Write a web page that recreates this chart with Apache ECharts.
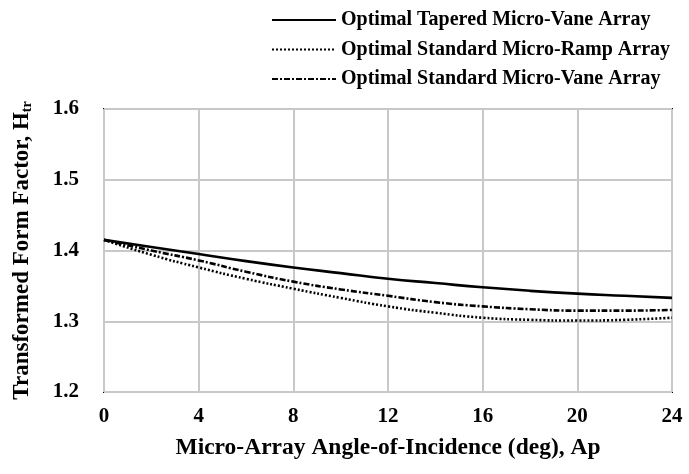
<!DOCTYPE html>
<html><head><meta charset="utf-8">
<script src="https://cdn.jsdelivr.net/npm/echarts@6/dist/echarts.min.js"></script>
<style>html,body{margin:0;padding:0;background:#fff}#c{width:689px;height:474px}</style>
</head><body><div id="c"></div>
<script>
const angles = [0, 2, 4, 6, 8, 10, 12, 14, 16, 18, 20, 22, 24];
const taperedVane = [1.415, 1.405, 1.395, 1.385, 1.376, 1.368, 1.360, 1.354, 1.348, 1.343, 1.339, 1.336, 1.333];
const standardRamp = [1.415, 1.394, 1.376, 1.360, 1.346, 1.333, 1.321, 1.312, 1.305, 1.302, 1.301, 1.302, 1.305];
const standardVane = [1.415, 1.400, 1.386, 1.370, 1.356, 1.345, 1.336, 1.327, 1.321, 1.317, 1.315, 1.315, 1.316];
const seriesNames = ['Optimal Tapered Micro-Vane Array', 'Optimal Standard Micro-Ramp Array', 'Optimal Standard Micro-Vane Array'];

const font = '"Liberation Serif", "Times New Roman", serif';
const pair = arr => angles.map((a, i) => [a, arr[i]]);
const chart = echarts.init(document.getElementById('c'), null, {renderer: 'canvas'});
chart.setOption({
  animation: false,
  backgroundColor: '#fff',
  grid: {left: 104, right: 17, top: 109, bottom: 82, show: true, borderColor: '#000', borderWidth: 2},
  legend: {
    orient: 'vertical', left: 266, top: 5, itemWidth: 64, itemHeight: 14, itemGap: 9.5,
    itemStyle: {opacity: 0},
    textStyle: {fontFamily: font, fontWeight: 'bold', fontSize: 20, lineHeight: 20, color: '#000'},
    data: seriesNames
  },
  xAxis: {
    type: 'value', min: 0, max: 24, interval: 4,
    axisLine: {show: false}, axisTick: {show: false},
    splitLine: {show: true, lineStyle: {color: '#c8c8c8', width: 2}},
    axisLabel: {fontFamily: font, fontWeight: 'bold', fontSize: 21, color: '#000', margin: 14},
    name: 'Micro-Array Angle-of-Incidence (deg), Ap', nameLocation: 'middle', nameGap: 44,
    nameTextStyle: {fontFamily: font, fontWeight: 'bold', fontSize: 23.5, color: '#000'}
  },
  yAxis: {
    type: 'value', min: 1.2, max: 1.6, interval: 0.1,
    axisLine: {show: false}, axisTick: {show: false},
    splitLine: {show: true, lineStyle: {color: '#c8c8c8', width: 2}},
    axisLabel: {fontFamily: font, fontWeight: 'bold', fontSize: 21, color: '#000', margin: 25, formatter: v => v.toFixed(1)},
    name: '{m|Transformed Form Factor, H}{s|tr}', nameLocation: 'middle', nameGap: 70, nameRotate: 90,
    nameTextStyle: {rich: {
      m: {fontFamily: font, fontWeight: 'bold', fontSize: 23, color: '#000'},
      s: {fontFamily: font, fontWeight: 'bold', fontSize: 14, color: '#000', verticalAlign: 'bottom', padding: [10, 0, 0, 0]}
    }}
  },
  series: [
    {name: seriesNames[0], type: 'line', smooth: true, symbol: 'none', data: pair(taperedVane),
     lineStyle: {color: '#000', width: 2.6, type: 'solid'}, itemStyle: {color: '#000'}},
    {name: seriesNames[1], type: 'line', smooth: true, symbol: 'none', data: pair(standardRamp),
     lineStyle: {color: '#000', width: 2.6, type: [2, 2]}, itemStyle: {color: '#000'}},
    {name: seriesNames[2], type: 'line', smooth: true, symbol: 'none', data: pair(standardVane),
     lineStyle: {color: '#000', width: 2.6, type: [6, 2, 2, 2]}, itemStyle: {color: '#000'}}
  ]
});
</script></body></html>
